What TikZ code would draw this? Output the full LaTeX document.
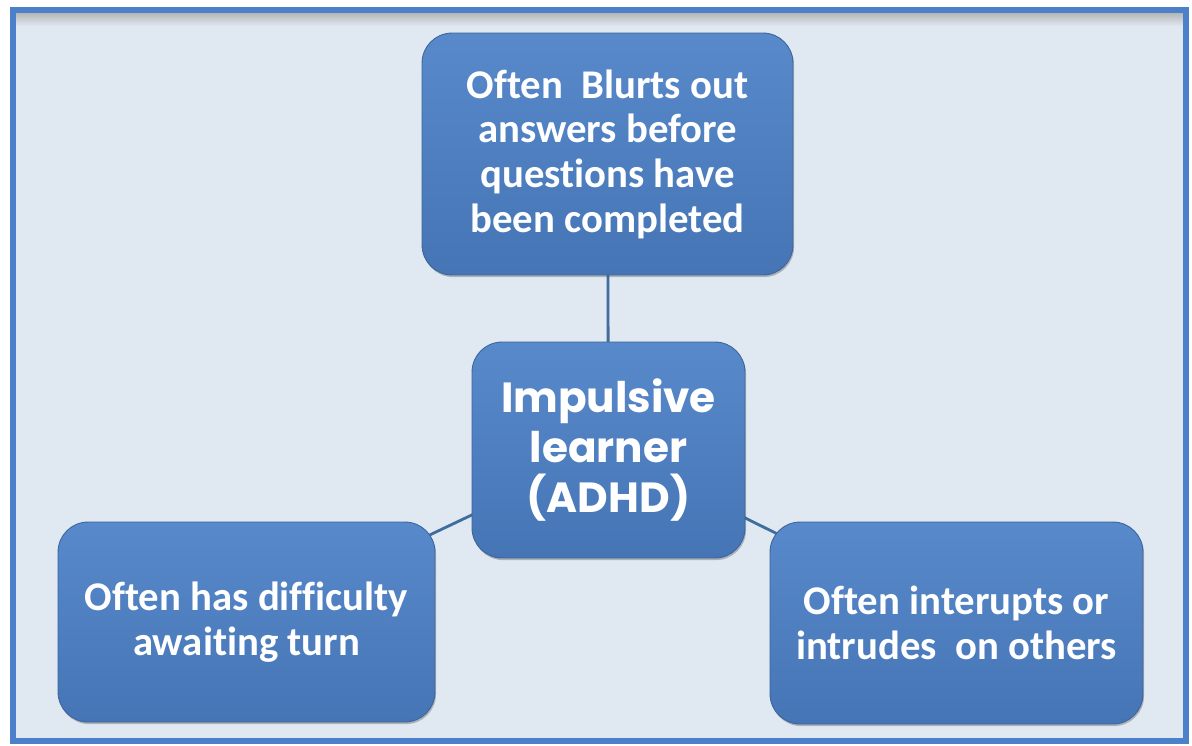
\documentclass[tikz,border=0pt]{standalone}
\usepackage{fontspec}
\setmainfont{Carlito}[Ligatures=NoCommon]
\newfontfamily\hubfont{Poppins}
\usetikzlibrary{shadows}
\definecolor{boxtop}{HTML}{5889CA}
\definecolor{boxbot}{HTML}{4575B5}
\definecolor{boxedge}{HTML}{3B659C}
\definecolor{framecol}{HTML}{4C80C9}
\definecolor{paper}{HTML}{E0E8F2}
\definecolor{linkcol}{HTML}{3F6E9E}
\pgfdeclarelayer{links}
\pgfdeclarelayer{paperlayer}
\pgfsetlayers{paperlayer,links,main}
\begin{document}
\begin{tikzpicture}[x=0.02cm,y=-0.02cm,
  topic/.style={rounded corners=0.6cm, top color=boxtop, bottom color=boxbot,
    draw=boxedge, line width=0.5pt, text=white, align=center, inner sep=0pt,
    font=\fontsize{23.2}{25.4}\selectfont\bfseries,
    drop shadow={shadow xshift=0.6pt, shadow yshift=-1.2pt, opacity=0.35, fill=black!70}},
  hub/.style={topic, font=\fontsize{24}{28.5}\selectfont\hubfont\bfseries},
  link/.style={draw=linkcol, line width=1.6pt}]
\useasboundingbox (0,0) rectangle (1192,745);

% page, paper and frame
\begin{pgfonlayer}{paperlayer}
  \fill[white] (0,0) rectangle (1192,745);
  \fill[paper] (13,10) rectangle (1186,741);
  \shade[top color=black!30, bottom color=paper] (15,12) rectangle (1184,26);
  \draw[framecol, line width=3.2pt] (13,10) rectangle (1186,741);
\end{pgfonlayer}

% topic boxes
\node[topic, minimum width=7.42cm, minimum height=4.84cm] (top) at (607.5,154)
  {Often\ \ Blurts out\\answers before\\questions have\\been completed};
\node[hub, minimum width=5.46cm, minimum height=4.32cm] (hub) at (608.5,450)
  {Impulsive\\learner\\(ADHD)};
\node[topic, minimum width=7.54cm, minimum height=4.0cm] (left) at (246.5,622)
  {Often has difficulty\\awaiting turn};
\node[topic, minimum width=7.46cm, minimum height=4.04cm] (right) at (956.5,623)
  {Often interupts or\\intrudes\ \ on others};

% connectors, drawn beneath the boxes
\begin{pgfonlayer}{links}
  \draw[link] (top.center) -- (hub.center);
  \draw[link] (hub.center) -- (left.center);
  \draw[link] (hub.center) -- (right.center);
\end{pgfonlayer}
\end{tikzpicture}
\end{document}
